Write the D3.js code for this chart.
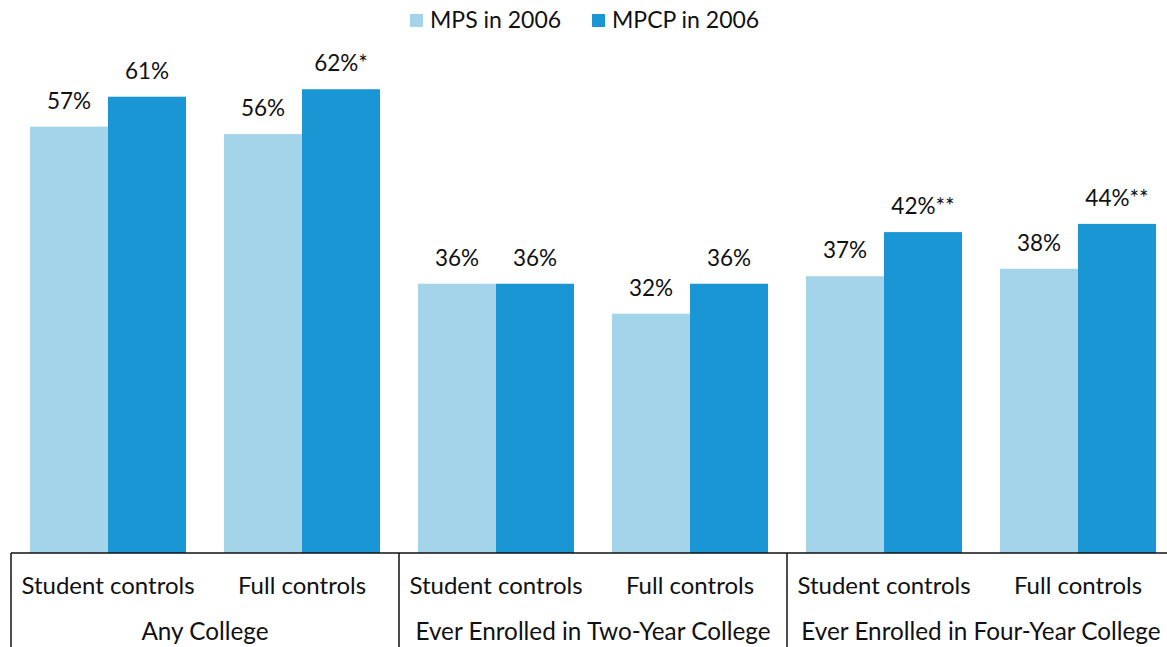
<!DOCTYPE html>
<html>
<head>
<meta charset="utf-8">
<script src="https://d3js.org/d3.v7.min.js"></script>
<style>
  body { margin: 0; background: #fff; }
  text { font-family: Lato, "Open Sans", sans-serif; fill: #111; }
</style>
</head>
<body>
<div id="chart"></div>
<script>
// chart data
var groups = ["Any College", "Ever Enrolled in Two-Year College", "Ever Enrolled in Four-Year College"];
var controls = ["Student controls", "Full controls"];
var seriesNames = ["MPS in 2006", "MPCP in 2006"];
var seriesColors = ["#a3d4ea", "#1996d3"];
var mps = [57, 56, 36, 32, 37, 38];
var mpcp = [61, 62, 36, 36, 42.9, 44];
var mpsLabels = ["57%", "56%", "36%", "32%", "37%", "38%"];
var mpcpLabels = ["61%", "62%*", "36%", "36%", "42%**", "44%**"];

var width = 1167, height = 647;
var svg = d3.select("#chart").append("svg")
  .attr("width", width)
  .attr("height", height);

// one cluster per (group, control) pair
var clusters = [];
groups.forEach(function (g, gi) {
  controls.forEach(function (c, ci) {
    clusters.push({ group: g, control: c, idx: gi * controls.length + ci });
  });
});

var left = 11, right = 1175, base = 553;
var x0 = d3.scaleBand().domain(d3.range(clusters.length)).range([left, right]);
var x1 = d3.scaleBand().domain(d3.range(seriesNames.length)).range([19, x0.bandwidth() - 19]);
var y = d3.scaleLinear().domain([0, 70]).range([base, base - 70 * 7.48]);

var values = [mps, mpcp];
var labels = [mpsLabels, mpcpLabels];

var cl = svg.selectAll("g.cluster")
  .data(clusters)
  .enter().append("g")
  .attr("class", "cluster")
  .attr("transform", function (d) { return "translate(" + x0(d.idx) + ",0)"; });

seriesNames.forEach(function (s, si) {
  cl.append("rect")
    .attr("x", x1(si))
    .attr("width", x1.bandwidth())
    .attr("y", function (d) { return y(values[si][d.idx]); })
    .attr("height", function (d) { return base - y(values[si][d.idx]); })
    .style("fill", seriesColors[si]);

  cl.append("text")
    .attr("x", x1(si) + x1.bandwidth() / 2)
    .attr("y", function (d) { return y(values[si][d.idx]) - 18; })
    .attr("text-anchor", "middle")
    .style("font-size", "22.5px")
    .text(function (d) { return labels[si][d.idx]; });
});

// category labels
cl.append("text")
  .attr("x", x0.bandwidth() / 2)
  .attr("y", 594)
  .attr("text-anchor", "middle")
  .style("font-size", "24px")
  .text(function (d) { return d.control; });

// axis line and group separators
svg.append("line")
  .attr("x1", left).attr("x2", width)
  .attr("y1", base).attr("y2", base)
  .style("stroke", "#111").style("stroke-width", 1.5);

var groupW = x0.bandwidth() * controls.length;
d3.range(groups.length + 1).forEach(function (i) {
  svg.append("line")
    .attr("x1", left + i * groupW).attr("x2", left + i * groupW)
    .attr("y1", base).attr("y2", height)
    .style("stroke", "#111").style("stroke-width", 1.5);
});

svg.selectAll("text.group")
  .data(groups)
  .enter().append("text")
  .attr("class", "group")
  .attr("x", function (d, i) { return left + i * groupW + groupW / 2; })
  .attr("y", 640)
  .attr("text-anchor", "middle")
  .style("font-size", "24.3px")
  .text(function (d) { return d; });

// legend
var legendX = [410, 592];
seriesNames.forEach(function (s, si) {
  svg.append("rect")
    .attr("x", legendX[si]).attr("y", 14)
    .attr("width", 13).attr("height", 13)
    .style("fill", seriesColors[si]);
  svg.append("text")
    .attr("x", legendX[si] + 20).attr("y", 28)
    .style("font-size", "23px")
    .text(s);
});
</script>
</body>
</html>
